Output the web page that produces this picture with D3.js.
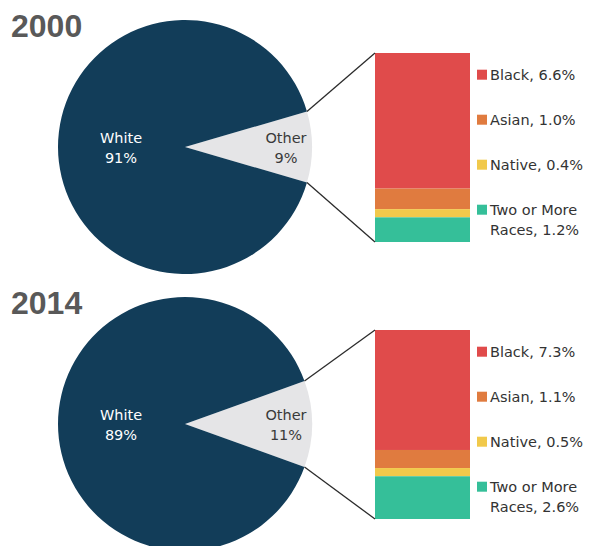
<!DOCTYPE html>
<html>
<head>
<meta charset="utf-8">
<script src="https://cdn.jsdelivr.net/npm/d3@7"></script>
<style>
  html, body { margin: 0; padding: 0; background: #ffffff; }
  svg { display: block; }
</style>
</head>
<body>
<script>
// Racial composition, shown as a pie with the non-white share broken out into a stacked bar
const years = ["2000", "2014"];
const whiteShare = [91, 89];
const otherShare = [9, 11];
const groups = ["Black", "Asian", "Native", "Two or More Races"];
const groupValues2000 = [6.6, 1.0, 0.4, 1.2];
const groupValues2014 = [7.3, 1.1, 0.5, 2.6];
const groupValues = [groupValues2000, groupValues2014];

const groupColors = ["#e04b4b", "#e07b3f", "#f1c94b", "#35bf99"];
const whiteColor = "#123d59";
const otherColor = "#e5e5e7";
const textColor = "#333333";
const font = "'DejaVu Sans', sans-serif";

const W = 589, H = 546;
const svg = d3.select("body").append("svg").attr("width", W).attr("height", H);

const panelStep = 277;
const cx = 185, cy = 147, r = 127;
const barX = 375, barW = 95, barTop = 53, barBottom = 242;

years.forEach((year, p) => {
  const g = svg.append("g").attr("transform", `translate(0,${p * panelStep})`);

  // Year heading
  g.append("text")
    .attr("x", 11).attr("y", 36.5)
    .attr("font-family", "'Liberation Sans', Arial, sans-serif")
    .attr("font-weight", "bold")
    .attr("font-size", 32)
    .attr("fill", "#595959")
    .text(year);

  // Pie: the "Other" wedge is centred on the right-hand side
  const shares = [
    { name: "Other", value: otherShare[p], color: otherColor },
    { name: "White", value: whiteShare[p], color: whiteColor }
  ];
  const total = d3.sum(shares, d => d.value);
  const half = Math.PI * otherShare[p] / total;
  const start = Math.PI / 2 - half;
  const pie = d3.pie().sort(null).value(d => d.value)
    .startAngle(start).endAngle(start + 2 * Math.PI);
  const arcs = pie(shares);
  const arc = d3.arc().innerRadius(0).outerRadius(r);

  const pieG = g.append("g").attr("transform", `translate(${cx},${cy})`);
  pieG.selectAll("path").data(arcs).join("path")
    .attr("d", arc)
    .attr("fill", d => d.data.color);

  // Pie labels
  const labelSpec = [
    { dx: 101, lines: ["Other", otherShare[p] + "%"], color: "#3a3a3a" },
    { dx: -64, lines: ["White", whiteShare[p] + "%"], color: "#ffffff" }
  ];
  labelSpec.forEach(l => {
    const t = pieG.append("text")
      .attr("text-anchor", "middle")
      .attr("font-family", font)
      .attr("font-size", 14.5)
      .attr("fill", l.color);
    l.lines.forEach((s, i) => {
      t.append("tspan").attr("x", l.dx).attr("y", -4.5 + i * 20.5).text(s);
    });
  });

  // Stacked bar of the non-white groups
  const vals = groupValues[p];
  const sum = d3.sum(vals);
  const y = d3.scaleLinear().domain([0, sum]).range([barTop, barBottom]);
  let acc = 0;
  const stacked = vals.map((v, i) => {
    const d = { name: groups[i], value: v, y0: acc, y1: acc + v, color: groupColors[i] };
    acc += v;
    return d;
  });
  g.selectAll("rect.seg").data(stacked).join("rect")
    .attr("class", "seg")
    .attr("x", barX).attr("width", barW)
    .attr("y", d => y(d.y0))
    .attr("height", d => y(d.y1) - y(d.y0))
    .attr("fill", d => d.color);

  // Connector lines from the wedge edge to the bar corners
  const otherArc = arcs[0];
  const edge = a => [cx + r * Math.sin(a), cy - r * Math.cos(a)];
  const pTop = edge(otherArc.startAngle);
  const pBot = edge(otherArc.endAngle);
  [[pTop, [barX, y(0)]], [pBot, [barX, y(sum)]]].forEach(([a, b]) => {
    g.append("line")
      .attr("x1", a[0]).attr("y1", a[1])
      .attr("x2", b[0]).attr("y2", b[1])
      .attr("stroke", "#2b2b2b")
      .attr("stroke-width", 1.3);
  });

  // Legend
  const legendX = 477;
  stacked.forEach((d, i) => {
    const yc = barTop + 21.7 + 45 * i;
    g.append("rect")
      .attr("x", legendX).attr("y", yc - 5)
      .attr("width", 10).attr("height", 10)
      .attr("fill", d.color);
    const label = d.name === "Two or More Races"
      ? ["Two or More", "Races, " + d.value.toFixed(1) + "%"]
      : [d.name + ", " + d.value.toFixed(1) + "%"];
    const t = g.append("text")
      .attr("font-family", font)
      .attr("font-size", 14.5)
      .attr("fill", textColor);
    label.forEach((s, k) => {
      t.append("tspan").attr("x", legendX + 13).attr("y", yc + 5 + k * 20).text(s);
    });
  });
});
</script>
</body>
</html>
